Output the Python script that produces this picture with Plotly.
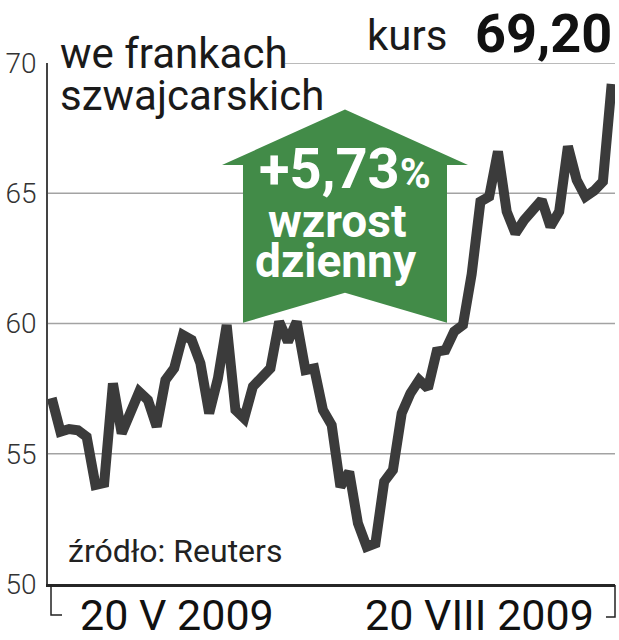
import plotly.graph_objects as go

# ---- data ----
days = list(range(65))
kurs = [57.14, 55.85, 55.95, 55.90, 55.65, 53.80, 53.88, 57.70, 55.78, 56.60,
        57.38, 57.06, 56.04, 57.83, 58.28, 59.56, 59.37, 58.47, 56.55, 57.90,
        59.94, 56.68, 56.36, 57.58, 57.90, 58.28, 60.07, 59.30, 60.07, 58.21,
        58.28, 56.68, 56.10, 53.73, 54.31, 52.33, 51.43, 51.56, 53.93, 54.38,
        56.55, 57.32, 57.83, 57.51, 58.92, 58.98, 59.69, 59.94, 61.90, 64.68,
        64.87, 66.60, 64.30, 63.46, 63.97, 64.35, 64.74, 63.72, 64.30, 66.80,
        65.51, 64.87, 65.10, 65.45, 69.20]
ytick_vals = [50, 55, 60, 65, 70]
ytick_text = ["50", "55", "60", "65", "70"]
date_labels = ["20 V 2009", "20 VIII 2009"]
title_lines = ["we frankach", "szwajcarskich"]
kurs_label = "kurs"
kurs_value = "69,20"
change_lines = ["+5,73<span style='font-size:42px'>%</span>", "wzrost", "dzienny"]
source = "źródło: Reuters"

# ---- layout geometry (pixels) ----
W, H = 619, 640
PL, PR, PT, PB = 48, 615, 63, 584


def px(x):
    return (x - PL) / (PR - PL)


def py(y):
    return (PB - y) / (PB - PT)


fig = go.Figure()
fig.add_trace(go.Scatter(
    x=days, y=kurs, mode="lines",
    line=dict(color="#3b3b3b", width=10),
    hoverinfo="skip", showlegend=False,
))

shapes = []
# grid lines
for v in ytick_vals[1:]:
    x0 = px(285) if v == 70 else 0
    shapes.append(dict(type="line", xref="paper", yref="y", x0=x0, x1=1,
                       y0=v, y1=v, line=dict(color="#a3a3a3", width=1.6),
                       layer="below"))
# green arrow
pts = [(345, 109.5), (468, 165), (447, 165), (447, 322.7), (345, 292.7),
       (243, 322.7), (243, 165), (222, 165)]
path = "M " + " L ".join(f"{px(a):.4f},{py(b):.4f}" for a, b in pts) + " Z"
shapes.append(dict(type="path", xref="paper", yref="paper", path=path,
                   fillcolor="#428b48", line=dict(width=0), layer="below"))
# date brackets
shapes.append(dict(type="path", xref="paper", yref="paper",
                   path=f"M {px(51):.4f},{py(585):.4f} L {px(51):.4f},{py(615):.4f} L {px(62):.4f},{py(615):.4f}",
                   line=dict(color="#222", width=1.5)))
shapes.append(dict(type="path", xref="paper", yref="paper",
                   path=f"M {px(606):.4f},{py(617):.4f} L {px(615):.4f},{py(617):.4f} L {px(615):.4f},{py(585):.4f}",
                   line=dict(color="#222", width=1.5)))

ann = []
font_main = "Roboto"


def add_text(text, x, y, size, color="#1a1a1a", anchor="left", bold=False, family=font_main):
    ann.append(dict(text=(f"<b>{text}</b>" if bold else text), xref="paper", yref="paper",
                    x=px(x), y=py(y), xanchor=anchor, yanchor="middle",
                    showarrow=False, font=dict(family=family, size=size, color=color)))


add_text(title_lines[0], 58, 68 - 0.34 * 42, 42)
add_text(title_lines[1], 58, 110 - 0.34 * 42, 42)
add_text(kurs_label, 449, 50 - 0.34 * 42, 42, anchor="right")
add_text(kurs_value, 614, 52 - 0.34 * 54, 54, anchor="right", bold=True, color="#111")
add_text(change_lines[0], 345, 188 - 0.34 * 56, 56, color="white", anchor="center", bold=True)
add_text(change_lines[1], 337, 237 - 0.34 * 46, 46, color="white", anchor="center", bold=True)
add_text(change_lines[2], 336, 277 - 0.34 * 46, 46, color="white", anchor="center", bold=True)
add_text(source, 66, 562 - 0.34 * 32, 32, color="#222")
add_text(date_labels[0], 177, 630 - 0.34 * 43, 43, anchor="center", color="#111")
add_text(date_labels[1], 479.5, 630 - 0.34 * 43, 43, anchor="center", color="#111")

fig.update_layout(
    template="none",
    width=W, height=H,
    margin=dict(l=PL, r=W - PR, t=PT, b=H - PB, pad=0, autoexpand=False),
    paper_bgcolor="white", plot_bgcolor="rgba(0,0,0,0)",
    shapes=shapes, annotations=ann,
    xaxis=dict(range=[-0.42, 64.38], showgrid=False, zeroline=False,
               showticklabels=False, ticks="", showline=True, automargin=False,
               linecolor="#262626", linewidth=3, fixedrange=True),
    yaxis=dict(range=[50, 70], tickvals=ytick_vals, ticktext=ytick_text,
               showgrid=False, zeroline=False, ticks="", showline=True, automargin=False,
               linecolor="#444", linewidth=1.5, ticklabelstandoff=4,
               tickfont=dict(family=font_main, size=28, color="#333", weight=300),
               fixedrange=True),
    showlegend=False,
)

fig.write_html("out.html", config={"displayModeBar": False},
               post_script="document.body.style.margin='0px';")
